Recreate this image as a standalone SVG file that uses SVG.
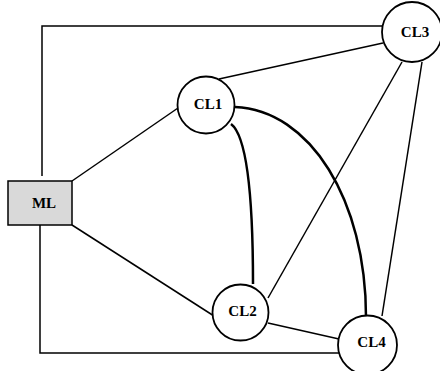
<svg xmlns="http://www.w3.org/2000/svg" width="440" height="371" viewBox="0 0 440 371">
  <style>
    .edge { fill: none; stroke: #000; stroke-width: 1.5; }
    .thick { fill: none; stroke: #000; stroke-width: 2.5; }
    .node circle { fill: #fff; stroke: #000; stroke-width: 1.8; }
    .node rect { fill: #d9d9d9; stroke: #000; stroke-width: 1.5; }
    .label { font-family: "Liberation Serif", "Times New Roman", serif; font-weight: bold; font-size: 15px; text-anchor: middle; fill: #000; }
  </style>
  <rect width="440" height="371" fill="#fff"/>
  <g id="connectors">
    <!-- ML to CL3 along the top -->
    <polyline class="edge" points="42,176 42,26 383,26"/>
    <!-- ML to CL4 along the bottom -->
    <polyline class="edge" points="40,225 40,353 340,353"/>
    <line class="edge" x1="72" y1="181" x2="178" y2="108"/>
    <line class="edge" x1="72" y1="225" x2="214" y2="316"/>
    <line class="edge" x1="219" y1="79" x2="383" y2="43"/>
    <line class="edge" x1="402" y1="62" x2="268" y2="298"/>
    <line class="edge" x1="422" y1="62" x2="382" y2="316"/>
    <line class="edge" x1="268" y1="323" x2="339" y2="339"/>
    <path class="thick" d="M231,124 C247,136 253,200 253,284"/>
    <path class="thick" d="M235,107 C310,110 366,200 366,317"/>
  </g>
  <g id="ML" class="node">
    <rect x="8" y="181" width="64" height="44"/>
    <text class="label" x="44" y="208">ML</text>
  </g>
  <g id="CL1" class="node">
    <circle cx="206" cy="105" r="28.5"/>
    <text class="label" x="208" y="109">CL1</text>
  </g>
  <g id="CL2" class="node">
    <circle cx="240.5" cy="312.5" r="28"/>
    <text class="label" x="242.5" y="316">CL2</text>
  </g>
  <g id="CL3" class="node">
    <circle cx="412" cy="32" r="30"/>
    <text class="label" x="415" y="37">CL3</text>
  </g>
  <g id="CL4" class="node">
    <circle cx="367.5" cy="345" r="29.5"/>
    <text class="label" x="371.5" y="347">CL4</text>
  </g>
</svg>
